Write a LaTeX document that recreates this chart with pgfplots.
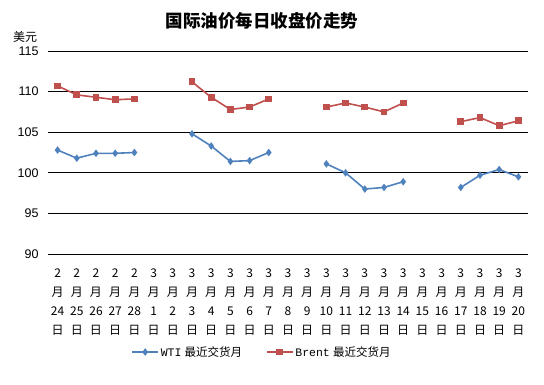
\documentclass[border=0pt]{standalone}
\usepackage{pgfplots}
\pgfplotsset{compat=1.18}
\usepackage{fontspec}
\setmainfont{Liberation Sans}
\newfontfamily\cjk{Noto Sans CJK SC}
\newfontfamily\mono{Liberation Mono}
\definecolor{wti}{HTML}{4F81BD}
\definecolor{brent}{HTML}{C0504D}
\begin{document}
\begin{tikzpicture}
\useasboundingbox (0pt,0pt) rectangle (544pt,384pt);
\node[font={\cjk\bfseries\fontsize{17.5}{20}\selectfont}] at (262pt,363pt) {国际油价每日收盘价走势};
\node[font={\cjk\fontsize{12}{14}\selectfont}] at (25pt,347pt) {美元};
\begin{axis}[
  at={(48pt,130pt)}, anchor=south west,
  scale only axis, width=480pt, height=203pt,
  xmin=-0.5, xmax=24.5, ymin=90, ymax=115,
  ytick={90,95,...,115},
  xtick={0,...,24},
  xticklabels={{2\\月\\24\\日},{2\\月\\25\\日},{2\\月\\26\\日},{2\\月\\27\\日},{2\\月\\28\\日},
    {3\\月\\1\\日},{3\\月\\2\\日},{3\\月\\3\\日},{3\\月\\4\\日},{3\\月\\5\\日},{3\\月\\6\\日},{3\\月\\7\\日},
    {3\\月\\8\\日},{3\\月\\9\\日},{3\\月\\10\\日},{3\\月\\11\\日},{3\\月\\12\\日},{3\\月\\13\\日},{3\\月\\14\\日},
    {3\\月\\15\\日},{3\\月\\16\\日},{3\\月\\17\\日},{3\\月\\18\\日},{3\\月\\19\\日},{3\\月\\20\\日}},
  xticklabel style={align=center, font={\cjk\fontsize{12}{19}\selectfont}, inner sep=0pt, yshift=-15pt},
  yticklabel style={font={\fontsize{12.5}{14}\selectfont}, xshift=-6pt},
  /pgf/number format/assume math mode=true,
  major tick length=0pt,
  axis line style={draw=none},
  ymajorgrids, major grid style={black, line width=0.8pt},
  unbounded coords=jump,
  clip=false,
  legend columns=2,
  legend style={at={(0.446,-0.483)}, anchor=center, draw=none, font={\fontsize{11.5}{14}\selectfont},
    /tikz/every even column/.append style={column sep=22pt}},
  legend image code/.code={\draw[mark repeat=2,mark phase=2] plot coordinates {(0cm,0cm) (0.45cm,0cm) (0.9cm,0cm)};},
]
\addplot[wti, line width=1.6pt, mark=diamond*, mark size=2.5pt] coordinates {
(0,102.8)(1,101.8)(2,102.4)(3,102.4)(4,102.5)(5,nan)(6,nan)
(7,104.8)(8,103.3)(9,101.4)(10,101.5)(11,102.5)(12,nan)(13,nan)
(14,101.1)(15,100.0)(16,98.0)(17,98.2)(18,98.9)(19,nan)(20,nan)
(21,98.2)(22,99.7)(23,100.4)(24,99.5)};
\addlegendentry{{\mono WTI} {\cjk 最近交货月}}
\addplot[brent, line width=1.6pt, mark=square*, mark size=2.6pt] coordinates {
(0,110.7)(1,109.6)(2,109.3)(3,109.0)(4,109.1)(5,nan)(6,nan)
(7,111.2)(8,109.3)(9,107.8)(10,108.1)(11,109.1)(12,nan)(13,nan)
(14,108.1)(15,108.6)(16,108.1)(17,107.5)(18,108.6)(19,nan)(20,nan)
(21,106.3)(22,106.8)(23,105.8)(24,106.4)};
\addlegendentry{{\mono Brent} {\cjk 最近交货月}}
\end{axis}
\end{tikzpicture}
\end{document}
